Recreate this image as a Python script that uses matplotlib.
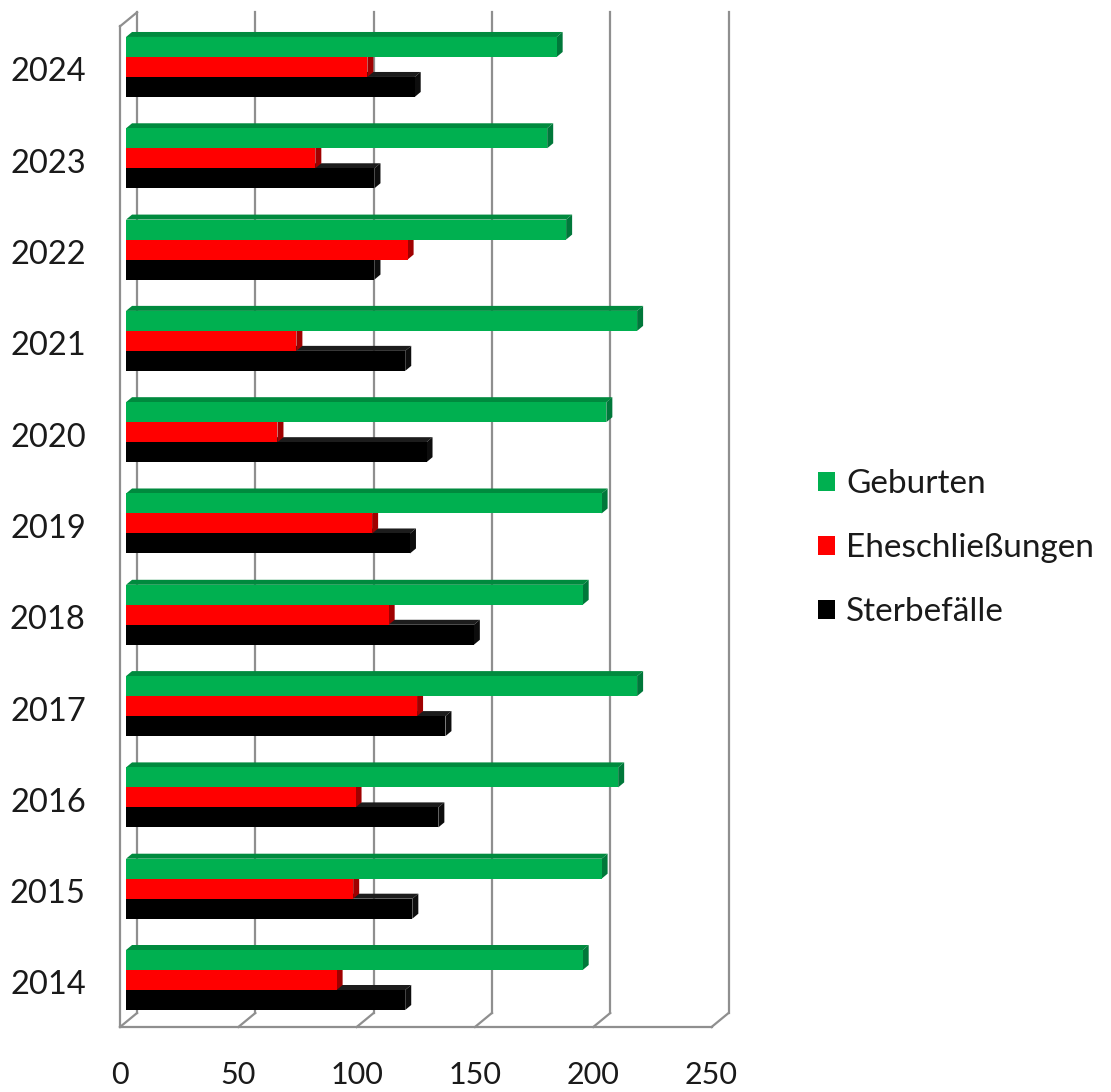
import matplotlib.pyplot as plt
from matplotlib.patches import Polygon, Rectangle
from matplotlib.transforms import offset_copy

# ---- data ----
years = [2014, 2015, 2016, 2017, 2018, 2019, 2020, 2021, 2022, 2023, 2024]
geburten = [193, 201, 208, 216, 193, 201, 203, 216, 186, 178, 182]
eheschliessungen = [89, 96, 97, 123, 111, 104, 64, 72, 119, 80, 102]
sterbefaelle = [118, 121, 132, 135, 147, 120, 127, 118, 105, 105, 122]
series_names = ["Geburten", "Eheschließungen", "Sterbefälle"]
xticks = [0, 50, 100, 150, 200, 250]

# ---- style ----
front_colors = ["#00B050", "#FF0000", "#000000"]
top_colors = ["#008A3E", "#C00000", "#1c1c1c"]
side_colors = ["#00783A", "#A00000", "#0d0d0d"]
grid_color = "#8f8f8f"
BAR_H = 0.219          # bar height in category units
BAR_DEPTH = (6, 5)     # pixel offset of the bar's own 3d depth
FRONT = (-6, -5)       # floor front edge relative to bar plane (pixels)
BACK = (11, 9)         # back wall relative to bar plane (pixels)
Y_FLOOR = -0.46
Y_TOP = 10.5

plt.rcParams['font.family'] = ['Lato', 'DejaVu Sans']

fig = plt.figure(figsize=(11.11, 10.92), dpi=100)
ax = fig.add_axes([0.1028, 0.0524, 0.575, 0.9448])
ax.set_xlim(-5, 265)
ax.set_ylim(-0.6, 10.7)
ax.axis('off')


def px(dx, dy):
    # pixel offset -> data offset, through the axes' own transform
    (x0, y0), (x1, y1) = ax.transData.inverted().transform([(0, 0), (dx, dy)])
    return x1 - x0, y1 - y0


fx, fy = px(*FRONT)
bx, by = px(*BACK)
ddx, ddy = px(*BAR_DEPTH)

# ---- walls / floor / gridlines ----
lw = 1.6
for v in xticks:
    # back wall gridline
    ax.plot([v + bx, v + bx], [Y_FLOOR + by, Y_TOP + by], color=grid_color, lw=lw, zorder=1)
    # floor diagonal
    ax.plot([v + fx, v + bx], [Y_FLOOR + fy, Y_FLOOR + by], color=grid_color, lw=lw, zorder=1)
# floor front edge
ax.plot([fx, xticks[-1] + fx], [Y_FLOOR + fy, Y_FLOOR + fy], color=grid_color, lw=lw, zorder=1)
# left wall front edge and top
ax.plot([fx, fx], [Y_FLOOR + fy, Y_TOP + fy], color=grid_color, lw=lw, zorder=1)
ax.plot([fx, bx], [Y_TOP + fy, Y_TOP + by], color=grid_color, lw=lw, zorder=1)

# ---- 3d bars ----
series = [geburten, eheschliessungen, sterbefaelle]
offsets = [BAR_H, 0.0, -BAR_H]   # green on top, black at bottom
for i, yr in enumerate(years):
    for k in [2, 1, 0]:
        v = series[k][i]
        y0 = i + offsets[k] - BAR_H / 2
        y1 = y0 + BAR_H
        z = 3 + 0.1 * (2 - k)   # upper bars drawn over lower ones
        ax.add_patch(Polygon([(0, y1), (v, y1), (v + ddx, y1 + ddy), (ddx, y1 + ddy)],
                             closed=True, facecolor=top_colors[k], edgecolor='none', zorder=z))
        ax.add_patch(Polygon([(v, y0), (v + ddx, y0 + ddy), (v + ddx, y1 + ddy), (v, y1)],
                             closed=True, facecolor=side_colors[k], edgecolor='none', zorder=z))
        ax.add_patch(Rectangle((0, y0), v, BAR_H, facecolor=front_colors[k],
                               edgecolor='none', zorder=z + 0.05))
    ax.text(-17, i - 0.06, str(yr), ha='right', va='center', fontsize=23.5, color='#1a1a1a')

# ---- x tick labels, under the floor front edge ----
tick_tr = offset_copy(ax.transData, fig=fig, x=FRONT[0], y=FRONT[1] - 48, units='dots')
for v in xticks:
    ax.text(v, Y_FLOOR, str(v), transform=tick_tr, ha='center', va='center',
            fontsize=22, color='#1a1a1a')

# ---- legend ----
handles = [Rectangle((0, 0), 1, 1, facecolor=c, edgecolor='none') for c in front_colors]
fig.legend(handles, series_names, loc='center left', bbox_to_anchor=(0.736, 0.498),
           frameon=False, fontsize=24, handlelength=0.52, handleheight=0.52,
           handletextpad=0.33, labelspacing=1.02, borderpad=0, borderaxespad=0,
           labelcolor='#1a1a1a')

fig.savefig("out.png", dpi=100)
